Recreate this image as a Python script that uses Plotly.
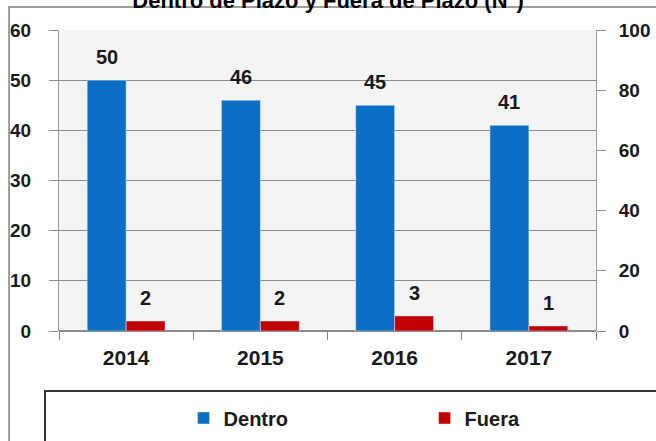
import plotly.graph_objects as go

years = ["2014", "2015", "2016", "2017"]
dentro = [50, 46, 45, 41]
fuera = [2, 2, 3, 1]
left_ticks = [0, 10, 20, 30, 40, 50, 60]
right_ticks = [0, 20, 40, 60, 80, 100]

FONT = "Liberation Sans Narrow, Arial Narrow, Liberation Sans, Arial, sans-serif"
BLUE = "#0A6FC4"
RED = "#C00000"

fig = go.Figure()
fig.add_trace(go.Bar(x=years, y=dentro, name="Dentro", marker_color=BLUE))
fig.add_trace(go.Bar(x=years, y=fuera, name="Fuera", marker_color=RED))
# invisible trace so the secondary axis gets drawn
fig.add_trace(go.Scatter(x=years, y=[0, 0, 0, 0], yaxis="y2", mode="markers",
                         marker=dict(opacity=0), showlegend=False, hoverinfo="skip"))

# value labels above the bars (x given as category index, "2014" would be read as a number)
for i, (d, f) in enumerate(zip(dentro, fuera)):
    for val, shift in ((d, -19.5), (f, 19.5)):
        fig.add_annotation(x=i, y=val, xref="x", yref="y", text=str(val), showarrow=False,
                           xshift=shift, yshift=23, yanchor="middle",
                           font=dict(family=FONT, size=20, color="#1a1a1a", weight="bold"))

# outer chart frame and legend box
fig.add_shape(type="rect", xref="paper", yref="paper", x0=-0.093, x1=1.3, y0=-0.6, y1=1.0764,
              line=dict(color="#7f7f7f", width=1.5), layer="below")
fig.add_shape(type="rect", xref="paper", yref="paper", x0=-0.026, x1=1.3, y0=-0.6, y1=-0.199,
              line=dict(color="#333333", width=2))

tick_font = dict(family=FONT, size=19, color="#1a1a1a", weight="bold")

fig.update_layout(
    width=656, height=441,
    margin=dict(l=59, r=60, t=30, b=110, autoexpand=False),
    paper_bgcolor="white",
    plot_bgcolor="#F4F4F4",
    barmode="group",
    bargap=0.42,
    bargroupgap=0,
    title=dict(text="Dentro de Plazo y Fuera de Plazo (N°)", x=0.5, xanchor="center",
               yref="container", y=1.0, yanchor="middle",
               font=dict(family=FONT, size=22, color="#000000", weight="bold")),
    font=dict(family=FONT, color="#1a1a1a"),
    legend=dict(orientation="h", x=0.232, xanchor="left", y=-0.289, yanchor="middle",
                entrywidth=196, entrywidthmode="pixels", itemwidth=30,
                font=dict(family=FONT, size=20, color="#1a1a1a", weight="bold"),
                bgcolor="rgba(0,0,0,0)"),
    xaxis=dict(type="category", range=[-0.5, 3.5], showline=False, showgrid=False,
               ticks="outside", tickson="boundaries", ticklen=8, tickcolor="#888888",
               tickfont=dict(family=FONT, size=21, color="#1a1a1a", weight="bold"),
               tickangle=0, ticklabelstandoff=12),
    yaxis=dict(range=[0, 60], tickvals=left_ticks, showgrid=True, gridcolor="#8c8c8c", gridwidth=1,
               showline=True, linecolor="#9a9a9a", linewidth=1,
               ticks="outside", ticklen=9, tickcolor="#8c8c8c",
               zeroline=True, zerolinecolor="#8c8c8c",
               tickfont=tick_font, ticklabelstandoff=14),
    yaxis2=dict(range=[0, 100], tickvals=right_ticks, overlaying="y", side="right", showgrid=False,
                showline=True, linecolor="#9a9a9a", linewidth=1,
                ticks="outside", ticklen=9, tickcolor="#8c8c8c", zeroline=False,
                tickfont=tick_font, ticklabelstandoff=9),
)

# drop the browser's default page margin so the figure sits at the window's corner
fig.write_html("out.html", config={"displayModeBar": False},
               post_script="document.body.style.margin = '0px';")
